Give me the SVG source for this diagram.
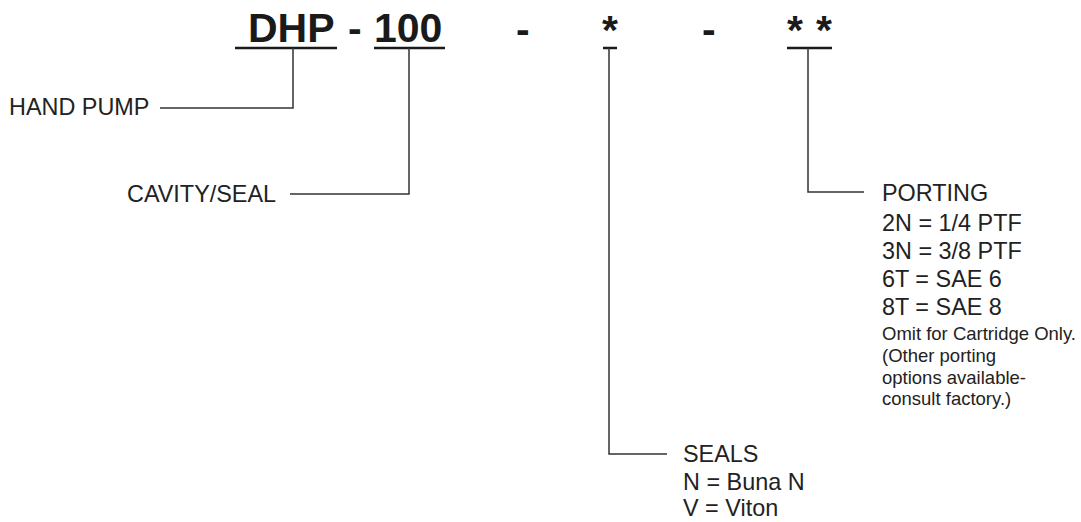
<svg xmlns="http://www.w3.org/2000/svg" width="1081" height="522" viewBox="0 0 1081 522">
<style>
.big{font-family:"Liberation Sans",Arial,sans-serif;font-weight:bold;font-size:41px;fill:#1a1a1a}
.lbl{font-family:"Liberation Sans",Arial,sans-serif;font-size:23.4px;fill:#222}
.sm{font-family:"Liberation Sans",Arial,sans-serif;font-size:18.5px;fill:#222}
.ul{stroke:#1a1a1a;stroke-width:2.5;fill:none}
.ln{stroke:#333;stroke-width:1.5;fill:none}
</style>
<rect width="1081" height="522" fill="#fff"/>
<g id="code">
<text class="big" x="248" y="42">DHP</text>
<text class="big" x="348" y="42">-</text>
<text class="big" x="374" y="42">100</text>
<text class="big" x="516" y="43">-</text>
<text class="big" x="602" y="44">*</text>
<text class="big" x="702" y="43">-</text>
<text class="big" x="787" y="44">*</text>
<text class="big" x="816" y="44">*</text>
<line class="ul" x1="235" y1="48" x2="337" y2="48"/>
<line class="ul" x1="374" y1="48" x2="445" y2="48"/>
<line class="ul" x1="603" y1="48" x2="617" y2="48"/>
<line class="ul" x1="787" y1="48" x2="832" y2="48"/>
</g>
<g id="connectors">
<polyline class="ln" points="293,48 293,108 160,108"/>
<polyline class="ln" points="409,48 409,194 290,194"/>
<polyline class="ln" points="609,48 609,454 667,454"/>
<polyline class="ln" points="808,48 808,192 864,192"/>
</g>
<g id="hand-pump">
<text class="lbl" x="9" y="115">HAND PUMP</text>
</g>
<g id="cavity-seal">
<text class="lbl" x="127" y="202">CAVITY/SEAL</text>
</g>
<g id="porting">
<text class="lbl" x="882" y="201">PORTING</text>
<text class="lbl" x="882" y="231">2N = 1/4 PTF</text>
<text class="lbl" x="882" y="259">3N = 3/8 PTF</text>
<text class="lbl" x="882" y="287">6T = SAE 6</text>
<text class="lbl" x="882" y="315">8T = SAE 8</text>
<text class="sm" x="882" y="340">Omit for Cartridge Only.</text>
<text class="sm" x="882" y="362">(Other porting</text>
<text class="sm" x="882" y="384">options available-</text>
<text class="sm" x="882" y="405">consult factory.)</text>
</g>
<g id="seals">
<text class="lbl" x="683" y="462">SEALS</text>
<text class="lbl" x="683" y="490">N = Buna N</text>
<text class="lbl" x="683" y="516">V = Viton</text>
</g>
</svg>
